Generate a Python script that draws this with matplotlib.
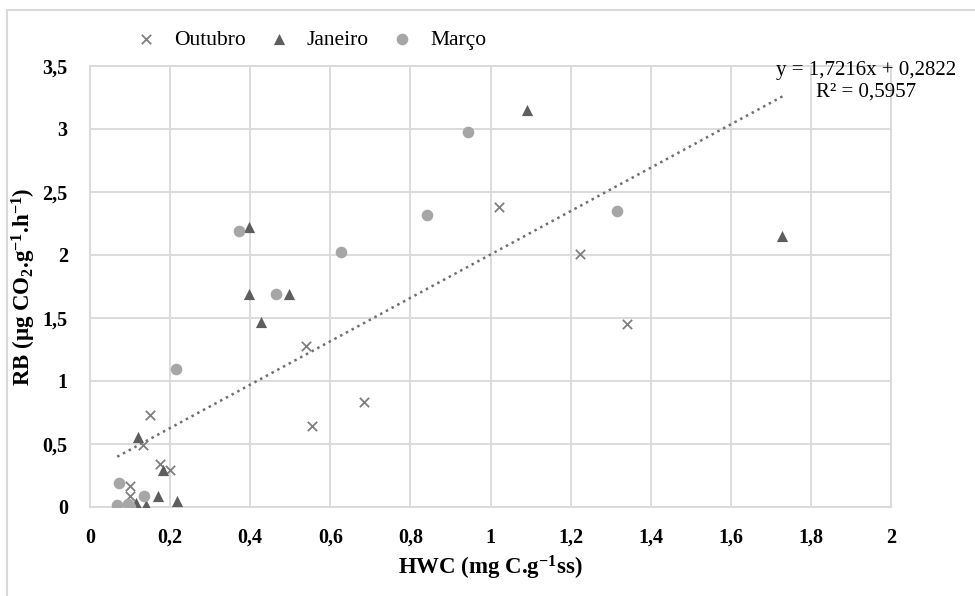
import numpy as np
import matplotlib.pyplot as plt
from matplotlib.lines import Line2D

# HWC (x) and RB (y) per month
out_x = [0.15, 0.54, 0.685, 0.555, 0.132, 0.175, 0.2, 0.1, 0.1, 1.02, 1.223, 1.342]
out_y = [0.73, 1.28, 0.83, 0.645, 0.49, 0.34, 0.295, 0.17, 0.085, 2.38, 2.01, 1.45]

jan_x = [1.09, 1.729, 0.396, 0.396, 0.497, 0.4275, 0.121, 0.183, 0.17, 0.217, 0.115, 0.14]
jan_y = [3.15, 2.15, 2.225, 1.69, 1.69, 1.47, 0.555, 0.295, 0.09, 0.05, 0.035, 0.015]

mar_x = [0.945, 0.841, 1.317, 0.372, 0.6275, 0.464, 0.214, 0.072, 0.136, 0.068, 0.094, 0.1]
mar_y = [2.98, 2.32, 2.35, 2.19, 2.02, 1.69, 1.095, 0.19, 0.085, 0.015, 0.02, 0.0]

slope = 1.7216
intercept = 0.2822
r2 = 0.5957

x_ticks = [0, 0.2, 0.4, 0.6, 0.8, 1, 1.2, 1.4, 1.6, 1.8, 2]
y_ticks = [0, 0.5, 1, 1.5, 2, 2.5, 3, 3.5]

plt.rcParams['font.family'] = ['Liberation Serif', 'DejaVu Serif']

fig = plt.figure(figsize=(9.75, 5.96), dpi=100)
ax = fig.add_axes([90 / 975, 1 - 507 / 596, 801 / 975, 441 / 596])

grid_c = '#d9d9d9'
ax.set_xlim(0, 2)
ax.set_ylim(0, 3.5)
ax.set_xticks(x_ticks)
ax.set_yticks(y_ticks)
ax.set_xticklabels([('%g' % v).replace('.', ',') for v in x_ticks], fontweight='bold', fontsize=14.5)
ax.set_yticklabels([('%g' % v).replace('.', ',') for v in y_ticks], fontweight='bold', fontsize=14.5)
ax.tick_params(length=0, pad=16)
ax.tick_params(axis='x', pad=15)
ax.grid(True, color=grid_c, lw=1.3)
ax.set_axisbelow(True)
for s in ax.spines.values():
    s.set_color(grid_c)
    s.set_linewidth(1.3)

# trend line
all_x = np.array(out_x + jan_x + mar_x)
tx = np.array([all_x.min(), all_x.max()])
ax.plot(tx, slope * tx + intercept, linestyle=(0, (1, 1.6)), color='#6f6f6f', lw=1.8, zorder=2)

ax.scatter(out_x, out_y, marker='x', s=45, color='#7f7f7f', linewidths=1.3, zorder=3, label='Outubro')
ax.scatter(jan_x, jan_y, marker='^', s=65, color='#5e5e5e', linewidths=0, zorder=3, label='Janeiro')
ax.scatter(mar_x, mar_y, marker='o', s=70, color='#a6a6a6', linewidths=0, zorder=3, label='Março')

ax.set_xlabel('HWC (mg C.g$\\mathregular{^{-1}}$ss)', fontsize=16.5, fontweight='bold', labelpad=4)
ax.set_ylabel('RB (µg CO$\\mathregular{_2}$.g$\\mathregular{^{-1}}$.h$\\mathregular{^{-1}}$)',
              fontsize=16.5, fontweight='bold', labelpad=3)

fig.legend(loc='center', bbox_to_anchor=(308 / 975, 1 - 40 / 596), ncol=3, frameon=False,
           fontsize=15.5, handletextpad=0.55, columnspacing=0.8, scatterpoints=1, handlelength=1.5)

fig.text(866 / 975, 1 - 70 / 596, 'y = 1,7216x + 0,2822', ha='center', va='center', fontsize=15)
fig.text(866 / 975, 1 - 92 / 596, 'R² = 0,5957', ha='center', va='center', fontsize=15)

# outer chart border (top and left edges)
fig.add_artist(Line2D([7 / 975, 1], [1 - 10 / 596, 1 - 10 / 596], transform=fig.transFigure, color=grid_c, lw=1.5))
fig.add_artist(Line2D([7 / 975, 7 / 975], [0, 1 - 10 / 596], transform=fig.transFigure, color=grid_c, lw=1.5))

fig.savefig('out.png', dpi=100)
